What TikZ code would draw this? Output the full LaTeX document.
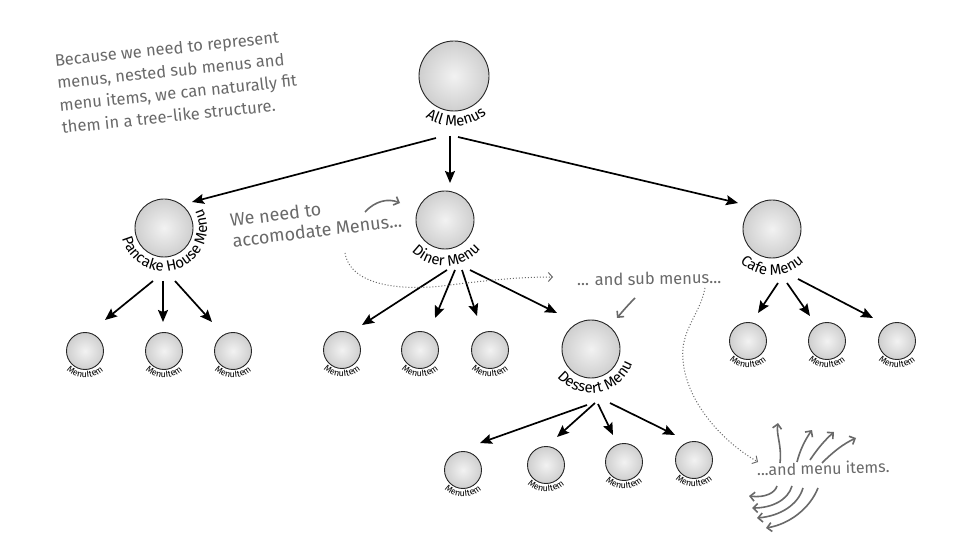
\documentclass[tikz,border=0pt]{standalone}
\usepackage{fontspec}
\setmainfont{Fira Sans}
\usetikzlibrary{arrows.meta,shadings,decorations.text,calc}
\definecolor{annogray}{RGB}{105,105,105}
\newcommand\labfont{\fontsize{15}{15}\selectfont}
\newcommand\itemfont{\fontsize{9}{9}\selectfont}
\newcommand\arclab[5]{\path[decorate,decoration={text along path,text align=center,text={#5}}] ($(#1)+(#2:#4pt)$) arc[start angle=#2,end angle=#3,radius=#4pt];}
\tikzset{
  ball/.style={circle, draw=gray!30!black, line width=0.9pt, inner color=gray!10, outer color=gray!38, inner sep=0pt},
  bigball/.style={ball, minimum size=58pt},
  smallball/.style={ball, minimum size=37pt},
  conn/.style={line width=1.7pt, -{Stealth[length=12pt,width=10pt,inset=2pt]}},
  note/.style={text=annogray, align=left, inner sep=0pt},
  garr/.style={draw=annogray, line width=1.6pt, -{Straight Barb[length=4.5pt,width=9pt]}},
  gdot/.style={draw=annogray, line width=1pt, dotted, -{Straight Barb[length=4pt,width=9pt]}},
}
\begin{document}
\begin{tikzpicture}[x=1pt,y=1pt]
\fill[white] (0,0) rectangle (970,-548);
\useasboundingbox (0,0) rectangle (970,-548);

% main nodes
\node[ball, minimum size=70pt] (all) at (454,-76) {};
\node[bigball] (pan) at (164,-228) {};
\node[bigball] (din) at (445,-220) {};
\node[bigball] (caf) at (772,-229) {};
\node[bigball] (des) at (591,-349) {};
% menu items
\node[smallball] (p1) at (85,-351) {};
\node[smallball] (p2) at (164,-351) {};
\node[smallball] (p3) at (233,-351) {};
\node[smallball] (d1) at (342,-350) {};
\node[smallball] (d2) at (420,-350) {};
\node[smallball] (d3) at (490,-350) {};
\node[smallball] (c1) at (748,-341) {};
\node[smallball] (c2) at (827,-341) {};
\node[smallball] (c3) at (897,-341) {};
\node[smallball] (e1) at (463,-470) {};
\node[smallball] (e2) at (546,-465) {};
\node[smallball] (e3) at (624,-462) {};
\node[smallball] (e4) at (694,-460) {};

% curved labels
\arclab{all}{228}{318}{50}{|\labfont|All Menus}
\arclab{pan}{170}{410}{43}{|\labfont|Pancake House Menu}
\arclab{din}{185}{359}{46}{|\labfont|Diner Menu}
\arclab{caf}{180}{360}{46}{|\labfont|Cafe Menu}
\arclab{des}{165}{395}{44}{|\labfont|Dessert Menu}
\foreach \n in {p1,p2,p3,d1,d2,d3,c1,c2,c3,e1,e2,e3,e4}{
  \arclab{\n}{190}{350}{27}{|\itemfont|MenuItem}
}

% connector end points
\coordinate (allS1) at (436,-138);
\coordinate (allS2) at (450,-136);
\coordinate (allS3) at (458,-137);
\coordinate (panT) at (192,-202);
\coordinate (dinT) at (450,-183);
\coordinate (cafT) at (738,-203);
\coordinate (panS1) at (153,-281);
\coordinate (panS2) at (163,-281);
\coordinate (panS3) at (175,-281);
\coordinate (p1T) at (105,-320);
\coordinate (p2T) at (163,-322);
\coordinate (p3T) at (212,-322);
\coordinate (dinS1) at (447,-270);
\coordinate (dinS2) at (455,-270);
\coordinate (dinS3) at (462,-270);
\coordinate (dinS4) at (470,-270);
\coordinate (d1T) at (362,-325);
\coordinate (d2T) at (435,-318);
\coordinate (d3T) at (477,-316);
\coordinate (desT) at (557,-313);
\coordinate (cafS1) at (778,-283);
\coordinate (cafS2) at (787,-283);
\coordinate (cafS3) at (798,-279);
\coordinate (c1T) at (758,-313);
\coordinate (c2T) at (810,-316);
\coordinate (c3T) at (873,-318);
\coordinate (desS1) at (587,-405);
\coordinate (desS2) at (595,-403);
\coordinate (desS3) at (598,-404);
\coordinate (desS4) at (610,-403);
\coordinate (e1T) at (480,-443);
\coordinate (e2T) at (557,-437);
\coordinate (e3T) at (613,-435);
\coordinate (e4T) at (675,-435);

% connectors
\draw[conn] (allS1) -- (panT);
\draw[conn] (allS2) -- (dinT);
\draw[conn] (allS3) -- (cafT);
\draw[conn] (panS1) -- (p1T);
\draw[conn] (panS2) -- (p2T);
\draw[conn] (panS3) -- (p3T);
\draw[conn] (dinS1) -- (d1T);
\draw[conn] (dinS2) -- (d2T);
\draw[conn] (dinS3) -- (d3T);
\draw[conn] (dinS4) -- (desT);
\draw[conn] (cafS1) -- (c1T);
\draw[conn] (cafS2) -- (c2T);
\draw[conn] (cafS3) -- (c3T);
\draw[conn] (desS1) -- (e1T);
\draw[conn] (desS2) -- (e2T);
\draw[conn] (desS3) -- (e3T);
\draw[conn] (desS4) -- (e4T);

% annotations
\node[note, font=\fontsize{16.5}{22.5}\selectfont, rotate=6, anchor=north west] (intro) at (54,-54)
  {Because we need to represent\\menus, nested sub menus and\\menu items, we can naturally fit\\them in a tree-like structure.};
\node[note, font=\fontsize{18}{21}\selectfont, rotate=7, anchor=north west] (need) at (229,-213)
  {We need to\\accomodate Menus...};
\node[note, font=\fontsize{16.5}{18}\selectfont, rotate=1, anchor=base west] (sub) at (577,-286) {... and sub menus...};
\node[note, font=\fontsize{16}{18}\selectfont, rotate=1.5, anchor=base west] (items) at (757,-476) {...and menu items.};

% gray hand arrows
\coordinate (g1a) at (365,-212); \coordinate (g1b) at (400,-203);
\draw[garr] (g1a) .. controls (375,-201) and (388,-198) .. (g1b);
\coordinate (g2a) at (635,-298); \coordinate (g2b) at (617,-318);
\draw[garr] (g2a) .. controls (628,-305) and (622,-312) .. (g2b);

% dotted arrows
\coordinate (dt1a) at (345,-253); \coordinate (dt1m) at (450,-285); \coordinate (dt1b) at (553,-277);
\draw[gdot] (dt1a) .. controls (350,-285) and (400,-292) .. (dt1m) .. controls (490,-280) and (520,-277) .. (dt1b);
\coordinate (dt2a) at (705,-288); \coordinate (dt2m) at (683,-360); \coordinate (dt2b) at (758,-462);
\draw[gdot] (dt2a) .. controls (700,-315) and (680,-330) .. (dt2m) .. controls (686,-400) and (720,-440) .. (dt2b);

% radiating arrows
\coordinate (u1a) at (780,-463); \coordinate (u1b) at (778,-423);
\coordinate (u2a) at (797,-462); \coordinate (u2b) at (812,-430);
\coordinate (u3a) at (810,-460); \coordinate (u3b) at (834,-432);
\coordinate (u4a) at (822,-463); \coordinate (u4b) at (856,-438);
\draw[garr] (u1a) .. controls (782,-445) and (776,-435) .. (u1b);
\draw[garr] (u2a) .. controls (800,-450) and (805,-440) .. (u2b);
\draw[garr] (u3a) .. controls (818,-448) and (825,-440) .. (u3b);
\draw[garr] (u4a) .. controls (833,-452) and (843,-444) .. (u4b);
\coordinate (w1a) at (777,-486); \coordinate (w1b) at (749,-496);
\coordinate (w2a) at (792,-486); \coordinate (w2b) at (752,-508);
\coordinate (w3a) at (803,-488); \coordinate (w3b) at (757,-518);
\coordinate (w4a) at (818,-488); \coordinate (w4b) at (766,-528);
\draw[garr] (w1a) .. controls (775,-493) and (765,-498) .. (w1b);
\draw[garr] (w2a) .. controls (788,-500) and (772,-508) .. (w2b);
\draw[garr] (w3a) .. controls (798,-505) and (780,-516) .. (w3b);
\draw[garr] (w4a) .. controls (810,-508) and (790,-524) .. (w4b);
\end{tikzpicture}
\end{document}
